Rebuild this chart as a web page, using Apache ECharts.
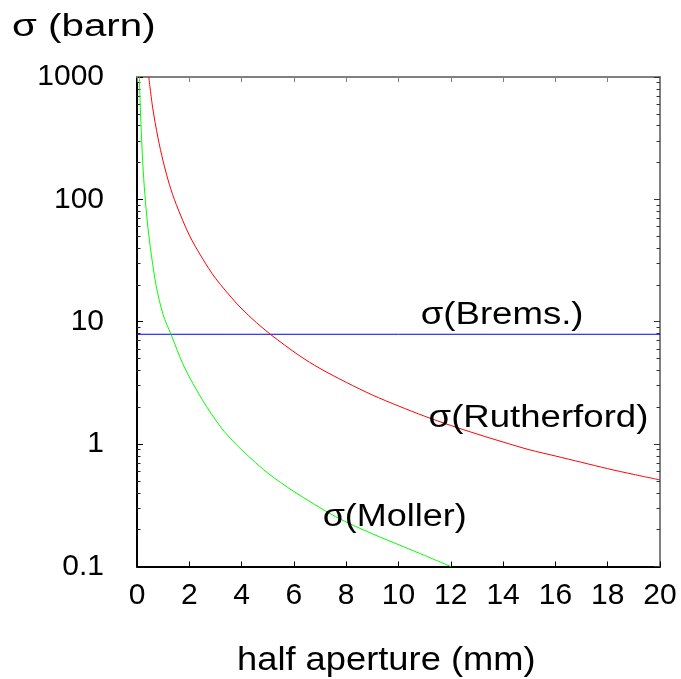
<!DOCTYPE html>
<html>
<head>
<meta charset="utf-8">
<script src="https://cdn.jsdelivr.net/npm/echarts@6/dist/echarts.min.js"></script>
<style>
  html, body { margin: 0; padding: 0; background: #fff; }
  #chart { width: 681px; height: 679px; }
</style>
</head>
<body>
<div id="chart"></div>
<script>
// Half aperture (mm) sampled along each curve
const rutherfordX = [0.45, 0.6, 0.8, 1.0, 1.24, 1.5, 2.0, 2.5, 3.0, 3.8, 4.4, 5.1, 6.2, 7.0, 8.0, 9.0, 10.0, 11.0, 12.0, 13.0, 14.0, 15.0, 16.0, 17.0, 18.0, 19.0, 20.0];
const rutherfordY = [1000, 560, 320, 205, 132, 91, 51, 33, 22.7, 14.2, 10.6, 7.9, 5.3, 4.15, 3.2, 2.52, 2.05, 1.69, 1.42, 1.21, 1.04, 0.9, 0.8, 0.71, 0.63, 0.565, 0.51];

const mollerX = [0.09, 0.12, 0.15, 0.22, 0.3, 0.4, 0.5, 0.73, 1.0, 1.3, 1.8, 2.5, 3.2, 3.8, 4.4, 5.0, 6.0, 7.6, 9.0, 10.2, 11.0, 12.0];
const mollerY = [1000, 620, 420, 200, 110, 64, 42, 19.8, 11.4, 7.9, 4.3, 2.3, 1.38, 0.99, 0.75, 0.58, 0.41, 0.255, 0.185, 0.145, 0.123, 0.1];

const bremsX = [0, 20];
const bremsY = [7.9, 7.9];

// Axis ticks
const xTicks = [0, 2, 4, 6, 8, 10, 12, 14, 16, 18, 20];
const yMajorTicks = [0.1, 1, 10, 100, 1000];
const yMinorTicks = [0.2, 0.3, 0.4, 0.5, 0.6, 0.7, 0.8, 0.9,
                     2, 3, 4, 5, 6, 7, 8, 9,
                     20, 30, 40, 50, 60, 70, 80, 90,
                     200, 300, 400, 500, 600, 700, 800, 900];

// Curve labels
const curveLabels = ['σ(Brems.)', 'σ(Rutherford)', 'σ(Moller)'];
const yTitle = 'σ (barn)';
const xTitle = 'half aperture (mm)';

const FONT = "'Liberation Sans', Arial, Helvetica, sans-serif";
const zip = (xs, ys) => xs.map((x, i) => [x, ys[i]]);

const chart = echarts.init(document.getElementById('chart'), null, { renderer: 'canvas' });

const plotRect = { left: 137, right: 21, top: 77, bottom: 112.5, containLabel: false };

const baseY = {
  type: 'log', logBase: 10, min: 0.1, max: 1000,
  splitLine: { show: false }, minorTick: { show: false }
};
const baseX = {
  type: 'value', min: 0, max: 20, interval: 2,
  splitLine: { show: false }
};

// Frame side: line + ticks pointing into the plot
const side = (color, width, tickColor, len, values) => ({
  axisLine: { show: width > 0, onZero: false, lineStyle: { color: color, width: width } },
  axisTick: { show: true, inside: true, length: len, customValues: values, lineStyle: { color: tickColor, width: 1 } }
});

chart.setOption({
  backgroundColor: '#ffffff',
  animation: false,
  // grid 0 carries the curves and major ticks, grid 1 (same box) the minor log ticks
  grid: [Object.assign({}, plotRect), Object.assign({}, plotRect)],
  xAxis: [
    Object.assign({}, baseX, side('#000', 2, '#000', 5, xTicks), {
      gridIndex: 0, position: 'bottom',
      axisLabel: { show: true, customValues: xTicks, margin: 14, color: '#000', fontSize: 30, fontFamily: FONT }
    }),
    Object.assign({}, baseX, side('#808080', 2, '#808080', 5, xTicks), {
      gridIndex: 0, position: 'top',
      axisLabel: { show: false }
    }),
    Object.assign({}, baseX, {
      gridIndex: 1, position: 'bottom',
      axisLine: { show: false, onZero: false }, axisTick: { show: false }, axisLabel: { show: false }
    })
  ],
  yAxis: [
    Object.assign({}, baseY, side('#000', 2, '#000', 6, yMajorTicks), {
      gridIndex: 0, position: 'left',
      axisLabel: {
        show: true, customValues: yMajorTicks, margin: 33, color: '#000', fontSize: 30, fontFamily: FONT,
        formatter: v => String(+v.toPrecision(3))
      }
    }),
    Object.assign({}, baseY, side('#808080', 2, '#333', 6, yMajorTicks), {
      gridIndex: 0, position: 'right',
      axisLabel: { show: false }
    }),
    Object.assign({}, baseY, side('#000', 0, '#222', 3.5, yMinorTicks), {
      gridIndex: 1, position: 'left',
      axisLabel: { show: false }
    }),
    Object.assign({}, baseY, side('#000', 0, '#333', 3.5, yMinorTicks), {
      gridIndex: 1, position: 'right',
      axisLabel: { show: false }
    })
  ],
  series: [
    {
      name: 'Brems', type: 'line', xAxisIndex: 0, yAxisIndex: 0,
      data: zip(bremsX, bremsY), showSymbol: false, symbol: 'none',
      lineStyle: { color: '#0000ff', width: 1 }, z: 3
    },
    {
      name: 'Rutherford', type: 'line', xAxisIndex: 0, yAxisIndex: 0,
      data: zip(rutherfordX, rutherfordY), showSymbol: false, symbol: 'none',
      smooth: 0.3,
      lineStyle: { color: '#ff0000', width: 1 }, z: 3
    },
    {
      name: 'Moller', type: 'line', xAxisIndex: 0, yAxisIndex: 0,
      data: zip(mollerX, mollerY), showSymbol: false, symbol: 'none',
      smooth: 0.3,
      lineStyle: { color: '#00ff00', width: 1 }, z: 3
    }
  ]
});

// Curve labels anchored in data space; the glyphs are drawn a little wide
const anchors = [
  { text: curveLabels[0], at: [10.85, 11.3], size: 31, sx: 1.18 },
  { text: curveLabels[1], at: [11.15, 1.61], size: 31, sx: 1.18 },
  { text: curveLabels[2], at: [7.1, 0.251], size: 31, sx: 1.16 }
];

const textEl = (text, x, y, size, sx) => ({
  type: 'text', x: x, y: y, scaleX: sx, scaleY: 1, z: 10, silent: true,
  style: { text: text, x: 0, y: 0, fill: '#000', font: size + 'px ' + FONT, align: 'left', verticalAlign: 'middle' }
});

const graphics = anchors.map(a => {
  const p = chart.convertToPixel({ gridIndex: 0 }, a.at);
  return textEl(a.text, p[0], p[1], a.size, a.sx);
});

// Axis titles
graphics.push(textEl(yTitle, 12, 27, 31, 1.3));
graphics.push(textEl(xTitle, 237, 661, 33, 1.1));

chart.setOption({ graphic: graphics });
</script>
</body>
</html>
